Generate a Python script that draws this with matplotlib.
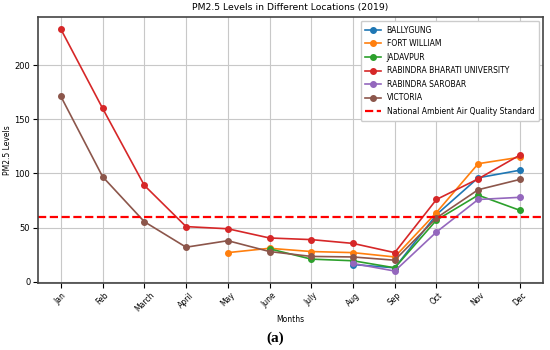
import numpy as np
import matplotlib.pyplot as plt

months = ['Jan', 'Feb', 'March', 'April', 'May', 'June', 'July', 'Aug', 'Sep', 'Oct', 'Nov', 'Dec']
nan = np.nan

ballygung = [nan, nan, nan, nan, nan, nan, nan, 16, 13, 62, 96, 103]
fort_william = [nan, nan, nan, nan, 27, 31, 28, 27, 23, 64, 109, 115]
jadavpur = [nan, nan, nan, nan, nan, 30.5, 21, 19.5, 13, 57, 80, 66]
rbu = [233, 160, 89, 51, 49, 40.5, 39, 35.5, 27, 76, 95, 117]
sarobar = [nan, nan, nan, nan, nan, nan, nan, 17, 10, 46, 76, 78]
victoria = [171, 97, 55.5, 32, 38, 28, 23.5, 23, 20, 59, 85, 94.5]
naaqs = 60

series = [
    ('BALLYGUNG', ballygung),
    ('FORT WILLIAM', fort_william),
    ('JADAVPUR', jadavpur),
    ('RABINDRA BHARATI UNIVERSITY', rbu),
    ('RABINDRA SAROBAR', sarobar),
    ('VICTORIA', victoria),
]

fig = plt.figure(figsize=(5.5, 3.5), dpi=100)
ax = fig.add_axes([0.069, 0.191, 0.918, 0.760])

x = np.arange(len(months))
for name, vals in series:
    ax.plot(x, vals, marker='o', markersize=4, linewidth=1.2, label=name)

ax.axhline(naaqs, color='red', linestyle='--', linewidth=1.6, label='National Ambient Air Quality Standard')

ax.set_xticks(x)
ax.set_xticklabels(months, rotation=45, fontsize=5.5)
ax.tick_params(axis='y', labelsize=6, pad=2)
ax.tick_params(axis='x', pad=2)
ax.set_yticks([0, 50, 100, 150, 200])
ax.set_xlabel('Months', fontsize=5.5, labelpad=1)
ax.set_ylabel('PM2.5 Levels', fontsize=5.5, labelpad=2)
ax.set_title('PM2.5 Levels in Different Locations (2019)', fontsize=6.7, pad=5)
ax.grid(True, color='#c8c8c8', linewidth=0.8)
for sp in ax.spines.values():
    sp.set_linewidth(1.2)
    sp.set_color('#444444')
ax.legend(loc='upper right', fontsize=5.5, framealpha=1, borderpad=0.6, labelspacing=0.6)

fig.text(0.5, 0.015, '(a)', ha='center', va='bottom', fontsize=11, fontweight='bold', family='Liberation Serif')

fig.savefig('out.png', dpi=100)
